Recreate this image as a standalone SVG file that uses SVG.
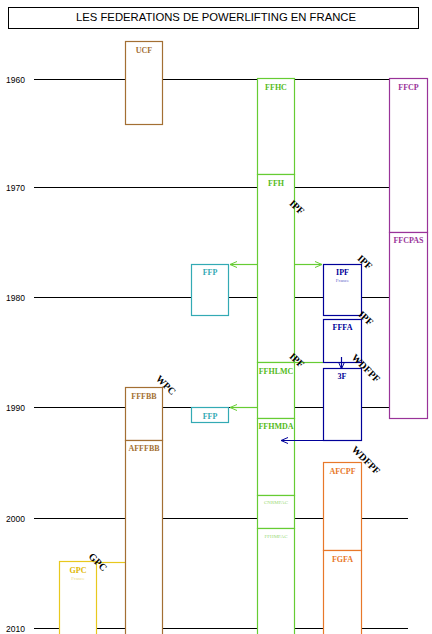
<svg xmlns="http://www.w3.org/2000/svg" width="432" height="634" viewBox="0 0 432 634">
<style>
.yl{stroke:#000;stroke-width:1.2}
.yr{font-family:"Liberation Sans",Arial,sans-serif;font-size:8.5px;fill:#000}
.b{fill:#fff;stroke-width:1.2}
.lb{font-family:"Liberation Serif","Times New Roman",serif;font-weight:bold;font-size:8px;text-anchor:middle}
.sm{font-family:"Liberation Serif","Times New Roman",serif;font-size:5px;text-anchor:middle}
.rot{font-family:"Liberation Serif","Times New Roman",serif;font-weight:bold;font-size:10px;text-anchor:middle;fill:#000}
.brown{stroke:#a36f33}.tbrown{fill:#a36f33}
.green{stroke:#66cc33}.tgreen{fill:#55bb22}
.purple{stroke:#993399}.tpurple{fill:#993399}
.teal{stroke:#33aab4}.tteal{fill:#33aab4}
.navy{stroke:#000099}.tnavy{fill:#000099}
.orange{stroke:#e8782a}.torange{fill:#e8782a}
.yellow{stroke:#e8c81e}.tyellow{fill:#e0b800}
.c{fill:none;stroke-width:1.2}
</style>
<defs>
<marker id="ag" markerWidth="8" markerHeight="8" refX="7" refY="4" orient="auto" markerUnits="userSpaceOnUse"><path d="M0,1 L7,4 L0,7" fill="none" stroke="#66cc33" stroke-width="1"/></marker>
<marker id="an" markerWidth="8" markerHeight="8" refX="7" refY="4" orient="auto" markerUnits="userSpaceOnUse"><path d="M0,1 L7,4 L0,7" fill="none" stroke="#000099" stroke-width="1"/></marker>
</defs>
<rect width="432" height="634" fill="#fff"/>
<g id="title">
<rect x="8.5" y="7.5" width="410" height="21" fill="#fff" stroke="#000" stroke-width="1"/>
<text x="216" y="21" font-family="Liberation Sans,Arial,sans-serif" font-size="11.5" text-anchor="middle" textLength="280" lengthAdjust="spacingAndGlyphs">LES FEDERATIONS DE POWERLIFTING EN FRANCE</text>
</g>
<g id="timeline">
<line class="yl" x1="34" y1="79.5" x2="408" y2="79.5"/>
<line class="yl" x1="34" y1="187.5" x2="408" y2="187.5"/>
<line class="yl" x1="34" y1="297.5" x2="408" y2="297.5"/>
<line class="yl" x1="34" y1="407.5" x2="408" y2="407.5"/>
<line class="yl" x1="34" y1="518.5" x2="408" y2="518.5"/>
<line class="yl" x1="34" y1="628.5" x2="408" y2="628.5"/>
<text class="yr" x="6" y="83">1960</text>
<text class="yr" x="6" y="191">1970</text>
<text class="yr" x="6" y="301">1980</text>
<text class="yr" x="6" y="411">1990</text>
<text class="yr" x="6" y="522">2000</text>
<text class="yr" x="6" y="632">2010</text>
</g>
<g id="connectors">
<line class="c green" x1="257" y1="264.5" x2="230" y2="264.5" marker-end="url(#ag)"/>
<line class="c green" x1="295" y1="264.5" x2="322" y2="264.5" marker-end="url(#ag)"/>
<line class="c green" x1="257" y1="407.5" x2="230" y2="407.5" marker-end="url(#ag)"/>
<line class="c green" x1="295" y1="362.5" x2="323" y2="362.5"/>
<line class="c yellow" x1="96" y1="562.5" x2="125" y2="562.5"/>
</g>
<g id="UCF"><rect class="b brown" x="125.5" y="41.5" width="37" height="83"/><text class="lb tbrown" x="144" y="53">UCF</text></g>
<g id="FFHC"><rect class="b green" x="257.5" y="78.5" width="37" height="96"/><text class="lb tgreen" x="276" y="89.5">FFHC</text></g>
<g id="FFH"><rect class="b green" x="257.5" y="174.5" width="37" height="188"/><text class="lb tgreen" x="276" y="186">FFH</text></g>
<g id="FFHLMC"><rect class="b green" x="257.5" y="362.5" width="37" height="56"/><text class="lb tgreen" x="276" y="373.5" font-size="6.5">FFHLMC</text></g>
<g id="FFHMDA"><rect class="b green" x="257.5" y="418.5" width="37" height="77"/><text class="lb tgreen" x="276" y="429" font-size="6.5">FFHMDA</text></g>
<g id="CNRMFAC"><rect class="b green" x="257.5" y="495.5" width="37" height="33"/><text class="sm" x="276" y="504" fill="#99d977">CNRMFAC</text></g>
<g id="FFHMFAC"><rect class="b green" x="257.5" y="528.5" width="37" height="110"/><text class="sm" x="276" y="538" fill="#99d977">FFHMFAC</text></g>
<g id="FFCP"><rect class="b purple" x="389.5" y="78.5" width="38" height="154"/><text class="lb tpurple" x="408.5" y="90">FFCP</text></g>
<g id="FFCPAS"><rect class="b purple" x="389.5" y="232.5" width="38" height="186"/><text class="lb tpurple" x="408.5" y="243">FFCPAS</text></g>
<g id="FFP1"><rect class="b teal" x="191.5" y="264.5" width="37" height="51"/><text class="lb tteal" x="210" y="275">FFP</text></g>
<g id="IPF"><rect class="b navy" x="323.5" y="264.5" width="38" height="51"/><text class="lb tnavy" x="342.5" y="275">IPF</text><text class="sm" x="342.5" y="282" fill="#6666cc">France</text></g>
<g id="FFFA"><rect class="b navy" x="323.5" y="319.5" width="38" height="43"/><text class="lb tnavy" x="342.5" y="330">FFFA</text></g>
<g id="F3"><rect class="b navy" x="323.5" y="368.5" width="38" height="72"/><text class="lb tnavy" x="342" y="379">3F</text></g>
<g id="FFP2"><rect class="b teal" x="191.5" y="407.5" width="37" height="15"/><text class="lb tteal" x="210" y="418.5">FFP</text></g>
<g id="FFFBB"><rect class="b brown" x="125.5" y="387.5" width="37" height="53"/><text class="lb tbrown" x="144" y="399">FFFBB</text></g>
<g id="AFFFBB"><rect class="b brown" x="125.5" y="440.5" width="37" height="200"/><text class="lb tbrown" x="144" y="450.5" font-size="6.5">AFFFBB</text></g>
<g id="AFCPF"><rect class="b orange" x="323.5" y="462.5" width="38" height="88"/><text class="lb torange" x="342.5" y="474">AFCPF</text></g>
<g id="FGFA"><rect class="b orange" x="323.5" y="550.5" width="38" height="90"/><text class="lb torange" x="342.5" y="562" font-size="7.5">FGFA</text></g>
<g id="GPC"><rect class="b yellow" x="59.5" y="561.5" width="37" height="80"/><text class="lb tyellow" x="78" y="572.5" font-size="7.5">GPC</text><text class="sm" x="78" y="580" fill="#eedd88">France</text></g>
<g id="connectors-over">
<line class="c navy" x1="341.5" y1="357" x2="341.5" y2="369" marker-end="url(#an)"/>
<line class="c navy" x1="323" y1="440.5" x2="281" y2="440.5" marker-end="url(#an)"/>
</g>
<g id="edge-labels">
<text class="rot" transform="translate(297,207) rotate(42)" y="3.5">IPF</text>
<text class="rot" transform="translate(365,262) rotate(42)" y="3.5">IPF</text>
<text class="rot" transform="translate(366,318) rotate(42)" y="3.5">IPF</text>
<text class="rot" transform="translate(297,360) rotate(42)" y="3.5">IPF</text>
<text class="rot" transform="translate(366,368) rotate(45)" y="3.5">WDFPF</text>
<text class="rot" transform="translate(366,460) rotate(45)" y="3.5">WDFPF</text>
<text class="rot" transform="translate(166,385) rotate(45)" y="3.5">WPC</text>
<text class="rot" transform="translate(98,562) rotate(45)" y="3.5">GPC</text>
</g>
</svg>
